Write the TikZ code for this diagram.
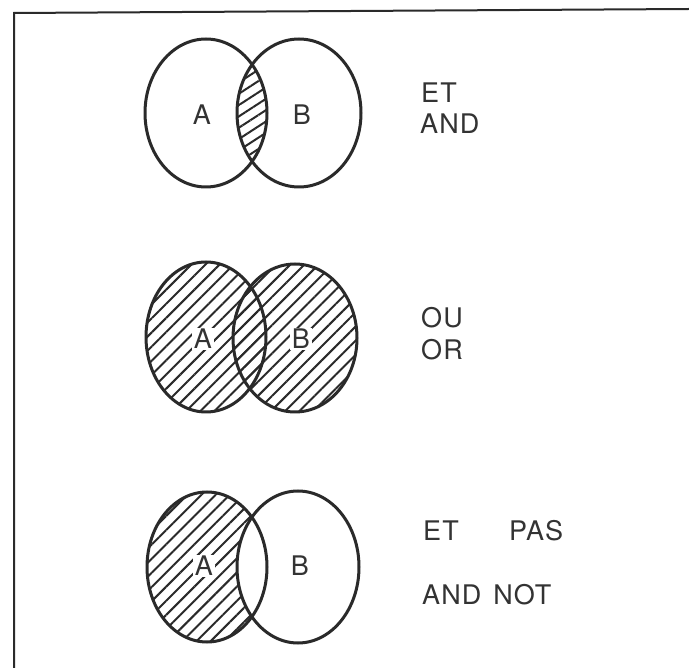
\documentclass[tikz,border=0pt]{standalone}
\usepackage{fontspec}
\setmainfont{TeX Gyre Heros}
\usetikzlibrary{patterns.meta}
\definecolor{ink}{HTML}{2A2A2A}
\definecolor{txt}{HTML}{333333}
\tikzset{
  outline/.style={draw=ink, line width=3pt},
  frameline/.style={draw=ink, line width=2pt},
  hatch/.style={pattern={Lines[angle=45,distance=10pt,line width=2pt]}, pattern color=ink},
  lenshatch/.style={pattern={Lines[angle=33,distance=9.5pt,line width=2pt]}, pattern color=ink},
  setname/.style={font=\fontsize{27}{32}\selectfont, text=txt, fill=white, inner sep=1.5pt},
  opname/.style={font=\fontsize{27}{32}\selectfont\addfontfeatures{LetterSpace=4}, text=txt, anchor=base west, inner sep=0pt},
}
\begin{document}
\begin{tikzpicture}[x=1pt, y=-1pt]
  \useasboundingbox (0,0) rectangle (689,668);
  \fill[white] (0,0) rectangle (689,668);

  % open frame: top edge and left edge
  \coordinate (tl) at (14,13);
  \coordinate (tr) at (689,9);
  \coordinate (bl) at (14,668);
  \draw[frameline] (tr) -- (tl) -- (bl);

  % ---- row 1: intersection (ET / AND)
  \coordinate (a1) at (206,113);
  \coordinate (b1) at (299,113);
  \begin{scope}
    \clip (a1) ellipse [x radius=61pt, y radius=74pt];
    \fill[lenshatch] (b1) ellipse [x radius=62pt, y radius=74pt];
  \end{scope}
  \draw[outline] (a1) ellipse [x radius=61pt, y radius=74pt];
  \draw[outline] (b1) ellipse [x radius=62pt, y radius=74pt];
  \node[setname] (la1) at (202,115) {A};
  \node[setname] (lb1) at (302,115) {B};
  \node[opname] (et1) at (421,103) {ET};
  \node[opname] (and1) at (420,134) {AND};

  % ---- row 2: union (OU / OR)
  \coordinate (a2) at (206,337);
  \coordinate (b2) at (295,338);
  \fill[hatch] (a2) ellipse [x radius=60pt, y radius=75pt];
  \fill[hatch] (b2) ellipse [x radius=62pt, y radius=74pt];
  \draw[outline] (a2) ellipse [x radius=60pt, y radius=75pt];
  \draw[outline] (b2) ellipse [x radius=62pt, y radius=74pt];
  \node[setname] (la2) at (203,339) {A};
  \node[setname] (lb2) at (301,339) {B};
  \node[opname] (ou) at (421,328) {OU};
  \node[opname] (or) at (421,360) {OR};

  % ---- row 3: difference (ET PAS / AND NOT)
  \coordinate (a3) at (207,567);
  \coordinate (b3) at (298,567);
  \fill[hatch] (a3) ellipse [x radius=60pt, y radius=75pt];
  \fill[white] (b3) ellipse [x radius=61pt, y radius=76pt];
  \draw[outline] (a3) ellipse [x radius=60pt, y radius=75pt];
  \draw[outline] (b3) ellipse [x radius=61pt, y radius=76pt];
  \node[setname] (la3) at (204,566) {A};
  \node[setname] (lb3) at (300,566) {B};
  \node[opname] (et3) at (423,540) {ET};
  \node[opname] (pas) at (509,540) {PAS};
  \node[opname] (andnot) at (422,605) {AND\kern12pt NOT};
\end{tikzpicture}
\end{document}
